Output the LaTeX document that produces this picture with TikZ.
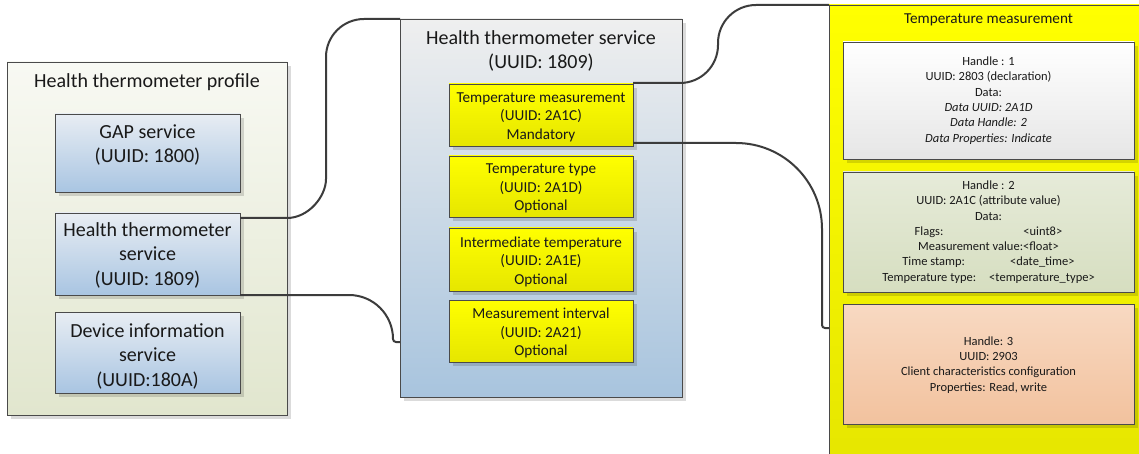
\documentclass[tikz,border=0pt]{standalone}
\usepackage{fontspec}
\setmainfont{Carlito}
\usetikzlibrary{shadows}
\definecolor{bord}{HTML}{4A4A4A}
\definecolor{conncol}{HTML}{3C3C3C}
\definecolor{profTop}{HTML}{F8F9F3}
\definecolor{profBot}{HTML}{E1E6CE}
\definecolor{blueTop}{HTML}{E8EDF3}
\definecolor{blueBot}{HTML}{A9C5E2}
\definecolor{midTop}{HTML}{EFEFEF}
\definecolor{midBot}{HTML}{A8C4DE}
\definecolor{yelTop}{HTML}{FFFF00}
\definecolor{yelBot}{HTML}{E6E600}
\definecolor{whTop}{HTML}{FFFFFF}
\definecolor{whBot}{HTML}{E6E6E6}
\definecolor{grTop}{HTML}{E6EBD9}
\definecolor{grBot}{HTML}{D6DEC0}
\definecolor{orTop}{HTML}{F8D9C2}
\definecolor{orBot}{HTML}{F2C29E}
\begin{document}
\begin{tikzpicture}[x=1pt,y=-1pt,
  every node/.style={inner sep=0pt,outer sep=0pt},
  frame/.style 2 args={draw=bord,line width=0.9pt,anchor=north west,
     minimum width=#1pt,minimum height=#2pt},
  shd/.style={drop shadow={shadow xshift=4pt,shadow yshift=-4pt,fill=black,opacity=0.14}},
  profbox/.style={top color=profTop,bottom color=profBot},
  bluebox/.style={top color=blueTop,bottom color=blueBot,shd},
  midbox/.style={top color=midTop,bottom color=midBot,shd},
  yelbox/.style={top color=yelTop,bottom color=yelBot,shd},
  whbox/.style={top color=whTop,bottom color=whBot,shd},
  grbox/.style={top color=grTop,bottom color=grBot,shd},
  orbox/.style={top color=orTop,bottom color=orBot,shd},
  big/.style={align=center,font=\fontsize{20}{24.5}\selectfont,text=black!90},
  mdtxt/.style={align=center,font=\fontsize{15.2}{18.5}\selectfont,text=black!90},
  smtxt/.style={align=center,font=\fontsize{12.5}{15.3}\selectfont,text=black!90},
  conn/.style={draw=conncol,line width=2pt}
]
\useasboundingbox (0,0) rectangle (1139,454);
\clip (0,0) rectangle (1139,454);
\fill[white] (0,0) rectangle (1139,454);

% left profile
\node[frame={280}{353},profbox,shd] (prof) at (7,62) {};
\node[big] (profT) at (147,82) {Health thermometer profile};
\node[frame={185}{78},bluebox] (gap) at (55,114) {};
\node[big] (gapT) at (147.5,145) {GAP service\\(UUID: 1800)};
\node[frame={185}{82},bluebox] (hts) at (55,213) {};
\node[big] (htsT) at (147.5,255) {Health thermometer\\service\\(UUID: 1809)};
\node[frame={185}{81},bluebox] (dev) at (55,312) {};
\node[big] (devT) at (147.5,356) {Device information\\service\\(UUID:180A)};

% middle service
\node[frame={282}{378},midbox] (mid) at (400,19) {};
\node[big] (midT) at (541,51) {Health thermometer service\\(UUID: 1809)};
\node[frame={184}{62},yelbox] (t1) at (449,84) {};
\node[mdtxt] (t1T) at (541,117) {Temperature measurement\\(UUID: 2A1C)\\Mandatory};
\node[frame={184}{61},yelbox] (t2) at (449,156) {};
\node[mdtxt] (t2T) at (541,188.5) {Temperature type\\(UUID: 2A1D)\\Optional};
\node[frame={184}{63},yelbox] (t3) at (449,228) {};
\node[mdtxt] (t3T) at (541,261.5) {Intermediate temperature\\(UUID: 2A1E)\\Optional};
\node[frame={184}{62},yelbox] (t4) at (449,300) {};
\node[mdtxt] (t4T) at (541,333) {Measurement interval\\(UUID: 2A21)\\Optional};

% right panel
\node[frame={320}{460},top color=yelTop,bottom color=yelBot] (panel) at (829,5) {};
\node[mdtxt] (panelT) at (988.5,20) {Temperature measurement};
\node[frame={291}{117},whbox] (w1) at (843,42) {};
\node[smtxt] (w1T) at (988.5,100.5) {Handle : 1\\UUID: 2803 (declaration)\\Data:\\\textit{Data UUID: 2A1D}\\\textit{Data Handle: 2}\\\textit{Data Properties: Indicate}};
\node[frame={291}{120},grbox] (g2) at (843,172) {};
\node[smtxt] (g2T) at (988.5,232) {Handle : 2\\UUID: 2A1C (attribute value)\\Data:\\Flags:\hspace{80pt}<uint8>\\Measurement value:<float>\\Time stamp:\hspace{45pt}<date\_time>\\Temperature type:\hspace{13pt}<temperature\_type>};
\node[frame={291}{120},orbox] (o3) at (843,304) {};
\node[smtxt] (o3T) at (988.5,365) {Handle: 3\\UUID: 2903\\Client characteristics configuration\\Properties: Read, write};

% connectors
\draw[conn] ([yshift=-5pt]hts.north east) -- (287,218)
  .. controls (308.5,218) and (326,196.5) .. (326,179) -- (326,57)
  .. controls (326,36) and (343,19) .. (364,19) -- (mid.north west);
\draw[conn] (hts.south east) -- (349,295)
  .. controls (373.3,295) and (393,314.7) .. (393,339)
  .. controls (393,340.7) and (394.3,342) .. (396,342) -- ([yshift=-323pt]mid.north west);
\draw[conn] ([yshift=1pt]t1.north east) -- (680,83)
  .. controls (701,83) and (718,66) .. (718,45) -- (718,43)
  .. controls (718,22) and (735,5) .. (756,5) -- (panel.north west);
\draw[conn] ([yshift=3pt]t1.south east) -- (736,143)
  .. controls (783.5,143) and (822,181.5) .. (822,229) -- (822,325)
  .. controls (822,326.7) and (823.3,328) .. (825,328) -- ([yshift=-323pt]panel.north west);
\end{tikzpicture}
\end{document}
